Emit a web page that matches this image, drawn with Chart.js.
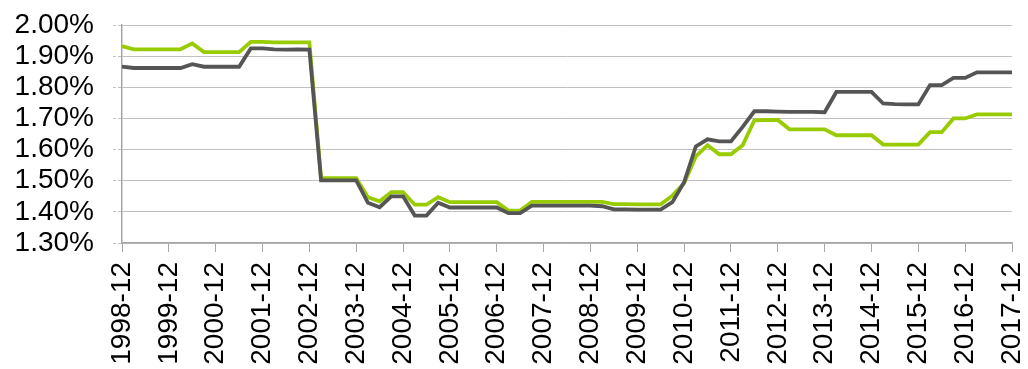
<!DOCTYPE html>
<html>
<head>
<meta charset="utf-8">
<script src="https://cdn.jsdelivr.net/npm/chart.js@4.4.1/dist/chart.umd.min.js"></script>
<style>
  html, body { margin: 0; padding: 0; background: #fff; }
  #wrap { width: 1028px; height: 369px; }
</style>
</head>
<body>
<div id="wrap"><canvas id="myChart" width="1028" height="369"></canvas></div>
<script>

// quarter-end labels, 1998-12 .. 2017-12
var quarters = ["03", "06", "09", "12"]
var categories = ["1998-12"]
for (var y = 1999; y <= 2017; y++) {
  for (var q = 0; q < 4; q++) {
    categories.push(y + "-" + quarters[q])
  }
}

// dark grey series
var darkSeries = [
  1.866, 1.862, 1.862, 1.862, 1.862, 1.862, 1.874, 1.866, 1.866, 1.866, 1.866,
  1.925, 1.925, 1.922, 1.921, 1.922, 1.921,
  1.501, 1.501, 1.501, 1.501, 1.429, 1.415, 1.450, 1.450, 1.388, 1.388, 1.429,
  1.414, 1.414, 1.414, 1.414, 1.414, 1.396, 1.396,
  1.420, 1.420, 1.420, 1.420, 1.420, 1.420, 1.418, 1.408, 1.408, 1.407, 1.407, 1.407,
  1.431, 1.495, 1.610, 1.633, 1.626, 1.626, 1.673, 1.723, 1.723, 1.722,
  1.721, 1.721, 1.721, 1.720, 1.785, 1.785, 1.785, 1.785,
  1.748, 1.746, 1.745, 1.745, 1.807, 1.807, 1.830, 1.830,
  1.848, 1.848, 1.848, 1.848
]

// green series
var greenSeries = [
  1.932, 1.922, 1.922, 1.922, 1.922, 1.922, 1.941, 1.913, 1.913, 1.913, 1.913,
  1.946, 1.946, 1.944, 1.944, 1.944, 1.944,
  1.508, 1.508, 1.508, 1.508, 1.447, 1.434, 1.463, 1.463, 1.423, 1.423, 1.447,
  1.431, 1.431, 1.431, 1.431, 1.431, 1.404, 1.404,
  1.432, 1.432, 1.432, 1.432, 1.432, 1.432, 1.432, 1.425, 1.425, 1.424, 1.424, 1.424,
  1.452, 1.492, 1.578, 1.614, 1.585, 1.585, 1.614, 1.694, 1.695, 1.695,
  1.665, 1.665, 1.665, 1.665, 1.646, 1.646, 1.646, 1.646,
  1.616, 1.616, 1.616, 1.616, 1.656, 1.656, 1.700, 1.700,
  1.713, 1.713, 1.713, 1.713
]

var yMin = 1.3
var yMax = 2.0
var yStep = 0.1

var tickFont = { family: 'Liberation Sans, Arial, sans-serif', size: 28, lineHeight: 1 }

var ctx = document.getElementById('myChart').getContext('2d');

var chart = new Chart(ctx, {
  type: 'line',
  data: {
    labels: categories,
    datasets: [{
      label: "dark",
      data: darkSeries,
      borderColor: '#555555',
      borderWidth: 3.8,
      pointRadius: 0,
      tension: 0,
      fill: false
    }, {
      label: "green",
      data: greenSeries,
      borderColor: '#99cc00',
      borderWidth: 3.8,
      pointRadius: 0,
      tension: 0,
      fill: false
    }]
  },
  options: {
    responsive: false,
    animation: false,
    layout: { padding: { left: 15, right: 16, top: 25, bottom: 4 } },
    plugins: {
      legend: { display: false },
      tooltip: { enabled: false }
    },
    scales: {
      x: {
        offset: false,
        afterFit: function(scale) {
          scale.height = 122
          scale.paddingLeft = 0
          scale.paddingRight = 0
        },
        grid: {
          drawOnChartArea: false,
          drawTicks: true,
          tickLength: 9,
          color: '#a6a6a6',
          lineWidth: 1
        },
        border: { display: true, color: '#a6a6a6', width: 1.5 },
        ticks: {
          autoSkip: false,
          maxRotation: 90,
          minRotation: 90,
          padding: 10,
          color: '#000',
          font: tickFont,
          callback: function(val, i) {
            return i % 4 === 0 ? categories[i] : null
          }
        }
      },
      y: {
        min: yMin,
        max: yMax,
        afterFit: function(scale) {
          scale.width = 107
          scale.paddingTop = 0
          scale.paddingBottom = 0
        },
        grid: {
          color: '#c0c0c0',
          lineWidth: 1,
          tickLength: 9,
          borderDash: [3, 2],
          tickBorderDash: [3, 2]
        },
        border: { display: true, color: '#a6a6a6', width: 1.5 },
        ticks: {
          stepSize: yStep,
          autoSkip: false,
          maxTicksLimit: 20,
          padding: 19,
          color: '#000',
          font: tickFont,
          callback: function(v) { return v.toFixed(2) + '%' }
        }
      }
    }
  }
});

</script>
</body>
</html>
